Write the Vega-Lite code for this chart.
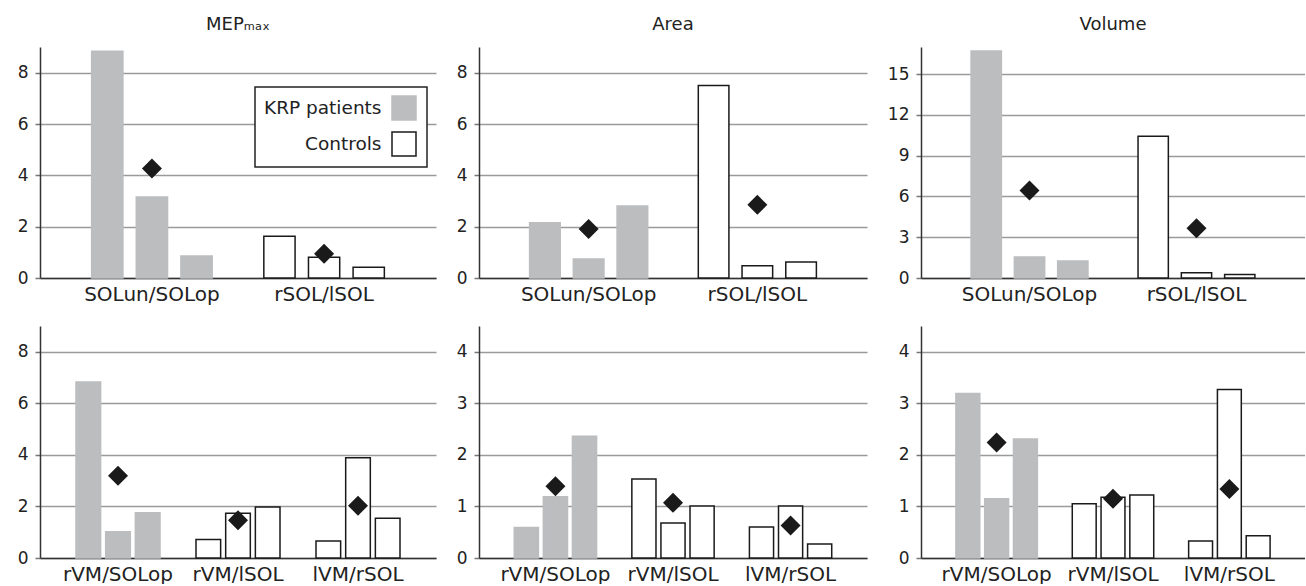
{
  "$schema": "https://vega.github.io/schema/vega-lite/v6.json",
  "background": "white",
  "autosize": {"type": "pad"},
  "padding": {"left": 17, "top": 16, "right": 0, "bottom": 0},
  "datasets": {
    "bars": [
      {"panel": "p1", "group": "SOLun/SOLop", "i": 1, "value": 8.83, "type": "KRP patients"},
      {"panel": "p1", "group": "SOLun/SOLop", "i": 2, "value": 3.16, "type": "KRP patients"},
      {"panel": "p1", "group": "SOLun/SOLop", "i": 3, "value": 0.86, "type": "KRP patients"},
      {"panel": "p1", "group": "rSOL/lSOL", "i": 1, "value": 1.63, "type": "Controls"},
      {"panel": "p1", "group": "rSOL/lSOL", "i": 2, "value": 0.81, "type": "Controls"},
      {"panel": "p1", "group": "rSOL/lSOL", "i": 3, "value": 0.42, "type": "Controls"},
      {"panel": "p2", "group": "SOLun/SOLop", "i": 1, "value": 2.15, "type": "KRP patients"},
      {"panel": "p2", "group": "SOLun/SOLop", "i": 2, "value": 0.74, "type": "KRP patients"},
      {"panel": "p2", "group": "SOLun/SOLop", "i": 3, "value": 2.81, "type": "KRP patients"},
      {"panel": "p2", "group": "rSOL/lSOL", "i": 1, "value": 7.5, "type": "Controls"},
      {"panel": "p2", "group": "rSOL/lSOL", "i": 2, "value": 0.48, "type": "Controls"},
      {"panel": "p2", "group": "rSOL/lSOL", "i": 3, "value": 0.62, "type": "Controls"},
      {"panel": "p3", "group": "SOLun/SOLop", "i": 1, "value": 16.7, "type": "KRP patients"},
      {"panel": "p3", "group": "SOLun/SOLop", "i": 2, "value": 1.55, "type": "KRP patients"},
      {"panel": "p3", "group": "SOLun/SOLop", "i": 3, "value": 1.25, "type": "KRP patients"},
      {"panel": "p3", "group": "rSOL/lSOL", "i": 1, "value": 10.44, "type": "Controls"},
      {"panel": "p3", "group": "rSOL/lSOL", "i": 2, "value": 0.39, "type": "Controls"},
      {"panel": "p3", "group": "rSOL/lSOL", "i": 3, "value": 0.25, "type": "Controls"},
      {"panel": "p4", "group": "rVM/SOLop", "i": 1, "value": 6.83, "type": "KRP patients"},
      {"panel": "p4", "group": "rVM/SOLop", "i": 2, "value": 1.02, "type": "KRP patients"},
      {"panel": "p4", "group": "rVM/SOLop", "i": 3, "value": 1.76, "type": "KRP patients"},
      {"panel": "p4", "group": "rVM/lSOL", "i": 1, "value": 0.72, "type": "Controls"},
      {"panel": "p4", "group": "rVM/lSOL", "i": 2, "value": 1.74, "type": "Controls"},
      {"panel": "p4", "group": "rVM/lSOL", "i": 3, "value": 1.98, "type": "Controls"},
      {"panel": "p4", "group": "lVM/rSOL", "i": 1, "value": 0.66, "type": "Controls"},
      {"panel": "p4", "group": "lVM/rSOL", "i": 2, "value": 3.89, "type": "Controls"},
      {"panel": "p4", "group": "lVM/rSOL", "i": 3, "value": 1.54, "type": "Controls"},
      {"panel": "p5", "group": "rVM/SOLop", "i": 1, "value": 0.59, "type": "KRP patients"},
      {"panel": "p5", "group": "rVM/SOLop", "i": 2, "value": 1.19, "type": "KRP patients"},
      {"panel": "p5", "group": "rVM/SOLop", "i": 3, "value": 2.36, "type": "KRP patients"},
      {"panel": "p5", "group": "rVM/lSOL", "i": 1, "value": 1.53, "type": "Controls"},
      {"panel": "p5", "group": "rVM/lSOL", "i": 2, "value": 0.68, "type": "Controls"},
      {"panel": "p5", "group": "rVM/lSOL", "i": 3, "value": 1.01, "type": "Controls"},
      {"panel": "p5", "group": "lVM/rSOL", "i": 1, "value": 0.6, "type": "Controls"},
      {"panel": "p5", "group": "lVM/rSOL", "i": 2, "value": 1.01, "type": "Controls"},
      {"panel": "p5", "group": "lVM/rSOL", "i": 3, "value": 0.27, "type": "Controls"},
      {"panel": "p6", "group": "rVM/SOLop", "i": 1, "value": 3.19, "type": "KRP patients"},
      {"panel": "p6", "group": "rVM/SOLop", "i": 2, "value": 1.15, "type": "KRP patients"},
      {"panel": "p6", "group": "rVM/SOLop", "i": 3, "value": 2.31, "type": "KRP patients"},
      {"panel": "p6", "group": "rVM/lSOL", "i": 1, "value": 1.05, "type": "Controls"},
      {"panel": "p6", "group": "rVM/lSOL", "i": 2, "value": 1.18, "type": "Controls"},
      {"panel": "p6", "group": "rVM/lSOL", "i": 3, "value": 1.22, "type": "Controls"},
      {"panel": "p6", "group": "lVM/rSOL", "i": 1, "value": 0.33, "type": "Controls"},
      {"panel": "p6", "group": "lVM/rSOL", "i": 2, "value": 3.27, "type": "Controls"},
      {"panel": "p6", "group": "lVM/rSOL", "i": 3, "value": 0.43, "type": "Controls"}
    ],
    "means": [
      {"panel": "p1", "group": "SOLun/SOLop", "mean": 4.27},
      {"panel": "p1", "group": "rSOL/lSOL", "mean": 0.94},
      {"panel": "p2", "group": "SOLun/SOLop", "mean": 1.91},
      {"panel": "p2", "group": "rSOL/lSOL", "mean": 2.85},
      {"panel": "p3", "group": "SOLun/SOLop", "mean": 6.44},
      {"panel": "p3", "group": "rSOL/lSOL", "mean": 3.66},
      {"panel": "p4", "group": "rVM/SOLop", "mean": 3.19},
      {"panel": "p4", "group": "rVM/lSOL", "mean": 1.46},
      {"panel": "p4", "group": "lVM/rSOL", "mean": 2.03},
      {"panel": "p5", "group": "rVM/SOLop", "mean": 1.39},
      {"panel": "p5", "group": "rVM/lSOL", "mean": 1.07},
      {"panel": "p5", "group": "lVM/rSOL", "mean": 0.63},
      {"panel": "p6", "group": "rVM/SOLop", "mean": 2.24},
      {"panel": "p6", "group": "rVM/lSOL", "mean": 1.15},
      {"panel": "p6", "group": "lVM/rSOL", "mean": 1.34}
    ]
  },
  "columns": 3,
  "spacing": {"row": 22, "column": 20},
  "resolve": {"scale": {"x": "independent", "y": "independent", "xOffset": "independent"}},
  "concat": [
    {
      "width": 396, "height": 231,
      "title": {"text": "MEPₘₐₓ"},
      "layer": [
        {
          "data": {"name": "bars"},
          "transform": [{"filter": "datum.panel === 'p1'"}],
          "mark": {"type": "bar", "strokeWidth": 1.5},
          "encoding": {
            "x": {"field": "group", "type": "nominal", "scale": {"domain": ["SOLun/SOLop", "rSOL/lSOL"], "paddingInner": 0.3, "paddingOuter": 0.3}},
            "xOffset": {"field": "i", "type": "ordinal", "scale": {"paddingInner": 0.3, "paddingOuter": 0}},
            "y": {"field": "value", "type": "quantitative", "scale": {"domain": [0, 9], "nice": false}, "axis": {"values": [0, 2, 4, 6, 8]}},
            "fill": {"field": "type", "type": "nominal", "scale": {"domain": ["KRP patients", "Controls"], "range": ["#bcbdbf", "#ffffff"]}, "legend": {"title": null}},
            "stroke": {"field": "type", "type": "nominal", "scale": {"domain": ["KRP patients", "Controls"], "range": ["#bcbdbf", "#1a1a1a"]}, "legend": {"title": null}}
          }
        },
        {
          "data": {"name": "means"},
          "transform": [{"filter": "datum.panel === 'p1'"}],
          "mark": {"type": "point", "shape": "diamond", "filled": true, "size": 400, "color": "#1a1a1a", "opacity": 1},
          "encoding": {
            "x": {"field": "group", "type": "nominal"},
            "y": {"field": "mean", "type": "quantitative"}
          }
        }
      ]
    },
    {
      "width": 388, "height": 231,
      "title": {"text": "Area"},
      "layer": [
        {
          "data": {"name": "bars"},
          "transform": [{"filter": "datum.panel === 'p2'"}],
          "mark": {"type": "bar", "strokeWidth": 1.5},
          "encoding": {
            "x": {"field": "group", "type": "nominal", "scale": {"domain": ["SOLun/SOLop", "rSOL/lSOL"], "paddingInner": 0.3, "paddingOuter": 0.3}},
            "xOffset": {"field": "i", "type": "ordinal", "scale": {"paddingInner": 0.3, "paddingOuter": 0}},
            "y": {"field": "value", "type": "quantitative", "scale": {"domain": [0, 9], "nice": false}, "axis": {"values": [0, 2, 4, 6, 8]}},
            "fill": {"field": "type", "type": "nominal", "scale": {"domain": ["KRP patients", "Controls"], "range": ["#bcbdbf", "#ffffff"]}, "legend": {"title": null}},
            "stroke": {"field": "type", "type": "nominal", "scale": {"domain": ["KRP patients", "Controls"], "range": ["#bcbdbf", "#1a1a1a"]}, "legend": {"title": null}}
          }
        },
        {
          "data": {"name": "means"},
          "transform": [{"filter": "datum.panel === 'p2'"}],
          "mark": {"type": "point", "shape": "diamond", "filled": true, "size": 400, "color": "#1a1a1a", "opacity": 1},
          "encoding": {
            "x": {"field": "group", "type": "nominal"},
            "y": {"field": "mean", "type": "quantitative"}
          }
        }
      ]
    },
    {
      "width": 384, "height": 231,
      "title": {"text": "Volume"},
      "layer": [
        {
          "data": {"name": "bars"},
          "transform": [{"filter": "datum.panel === 'p3'"}],
          "mark": {"type": "bar", "strokeWidth": 1.5},
          "encoding": {
            "x": {"field": "group", "type": "nominal", "scale": {"domain": ["SOLun/SOLop", "rSOL/lSOL"], "paddingInner": 0.3, "paddingOuter": 0.3}},
            "xOffset": {"field": "i", "type": "ordinal", "scale": {"paddingInner": 0.3, "paddingOuter": 0}},
            "y": {"field": "value", "type": "quantitative", "scale": {"domain": [0, 17], "nice": false}, "axis": {"values": [0, 3, 6, 9, 12, 15]}},
            "fill": {"field": "type", "type": "nominal", "scale": {"domain": ["KRP patients", "Controls"], "range": ["#bcbdbf", "#ffffff"]}, "legend": {"title": null}},
            "stroke": {"field": "type", "type": "nominal", "scale": {"domain": ["KRP patients", "Controls"], "range": ["#bcbdbf", "#1a1a1a"]}, "legend": {"title": null}}
          }
        },
        {
          "data": {"name": "means"},
          "transform": [{"filter": "datum.panel === 'p3'"}],
          "mark": {"type": "point", "shape": "diamond", "filled": true, "size": 400, "color": "#1a1a1a", "opacity": 1},
          "encoding": {
            "x": {"field": "group", "type": "nominal"},
            "y": {"field": "mean", "type": "quantitative"}
          }
        }
      ]
    },
    {
      "width": 396, "height": 232,
      "layer": [
        {
          "data": {"name": "bars"},
          "transform": [{"filter": "datum.panel === 'p4'"}],
          "mark": {"type": "bar", "strokeWidth": 1.5},
          "encoding": {
            "x": {"field": "group", "type": "nominal", "scale": {"domain": ["rVM/SOLop", "rVM/lSOL", "lVM/rSOL"], "paddingInner": 0.3, "paddingOuter": 0.3}},
            "xOffset": {"field": "i", "type": "ordinal", "scale": {"paddingInner": 0.17, "paddingOuter": 0}},
            "y": {"field": "value", "type": "quantitative", "scale": {"domain": [0, 9], "nice": false}, "axis": {"values": [0, 2, 4, 6, 8]}},
            "fill": {"field": "type", "type": "nominal", "scale": {"domain": ["KRP patients", "Controls"], "range": ["#bcbdbf", "#ffffff"]}, "legend": {"title": null}},
            "stroke": {"field": "type", "type": "nominal", "scale": {"domain": ["KRP patients", "Controls"], "range": ["#bcbdbf", "#1a1a1a"]}, "legend": {"title": null}}
          }
        },
        {
          "data": {"name": "means"},
          "transform": [{"filter": "datum.panel === 'p4'"}],
          "mark": {"type": "point", "shape": "diamond", "filled": true, "size": 400, "color": "#1a1a1a", "opacity": 1},
          "encoding": {
            "x": {"field": "group", "type": "nominal"},
            "y": {"field": "mean", "type": "quantitative"}
          }
        }
      ]
    },
    {
      "width": 388, "height": 232,
      "layer": [
        {
          "data": {"name": "bars"},
          "transform": [{"filter": "datum.panel === 'p5'"}],
          "mark": {"type": "bar", "strokeWidth": 1.5},
          "encoding": {
            "x": {"field": "group", "type": "nominal", "scale": {"domain": ["rVM/SOLop", "rVM/lSOL", "lVM/rSOL"], "paddingInner": 0.3, "paddingOuter": 0.3}},
            "xOffset": {"field": "i", "type": "ordinal", "scale": {"paddingInner": 0.17, "paddingOuter": 0}},
            "y": {"field": "value", "type": "quantitative", "scale": {"domain": [0, 4.5], "nice": false}, "axis": {"values": [0, 1, 2, 3, 4]}},
            "fill": {"field": "type", "type": "nominal", "scale": {"domain": ["KRP patients", "Controls"], "range": ["#bcbdbf", "#ffffff"]}, "legend": {"title": null}},
            "stroke": {"field": "type", "type": "nominal", "scale": {"domain": ["KRP patients", "Controls"], "range": ["#bcbdbf", "#1a1a1a"]}, "legend": {"title": null}}
          }
        },
        {
          "data": {"name": "means"},
          "transform": [{"filter": "datum.panel === 'p5'"}],
          "mark": {"type": "point", "shape": "diamond", "filled": true, "size": 400, "color": "#1a1a1a", "opacity": 1},
          "encoding": {
            "x": {"field": "group", "type": "nominal"},
            "y": {"field": "mean", "type": "quantitative"}
          }
        }
      ]
    },
    {
      "width": 384, "height": 232,
      "layer": [
        {
          "data": {"name": "bars"},
          "transform": [{"filter": "datum.panel === 'p6'"}],
          "mark": {"type": "bar", "strokeWidth": 1.5},
          "encoding": {
            "x": {"field": "group", "type": "nominal", "scale": {"domain": ["rVM/SOLop", "rVM/lSOL", "lVM/rSOL"], "paddingInner": 0.3, "paddingOuter": 0.3}},
            "xOffset": {"field": "i", "type": "ordinal", "scale": {"paddingInner": 0.17, "paddingOuter": 0}},
            "y": {"field": "value", "type": "quantitative", "scale": {"domain": [0, 4.5], "nice": false}, "axis": {"values": [0, 1, 2, 3, 4]}},
            "fill": {"field": "type", "type": "nominal", "scale": {"domain": ["KRP patients", "Controls"], "range": ["#bcbdbf", "#ffffff"]}, "legend": {"title": null}},
            "stroke": {"field": "type", "type": "nominal", "scale": {"domain": ["KRP patients", "Controls"], "range": ["#bcbdbf", "#1a1a1a"]}, "legend": {"title": null}}
          }
        },
        {
          "data": {"name": "means"},
          "transform": [{"filter": "datum.panel === 'p6'"}],
          "mark": {"type": "point", "shape": "diamond", "filled": true, "size": 400, "color": "#1a1a1a", "opacity": 1},
          "encoding": {
            "x": {"field": "group", "type": "nominal"},
            "y": {"field": "mean", "type": "quantitative"}
          }
        }
      ]
    }
  ],
  "config": {
    "font": "DejaVu Sans",
    "view": {"stroke": null},
    "title": {"font": "DejaVu Sans", "fontSize": 18, "fontWeight": "normal", "color": "#222222", "anchor": "middle", "frame": "group", "baseline": "alphabetic", "offset": 13},
    "axis": {"labelFont": "DejaVu Sans", "labelColor": "#222222", "title": null},
    "axisY": {"domainColor": "#333333", "domainWidth": 1.5, "gridColor": "#9a9a9a", "gridWidth": 1.5, "tickColor": "#777777", "tickSize": 5, "tickWidth": 1.5, "labelFontSize": 17, "labelPadding": 7},
    "axisX": {"domainColor": "#333333", "domainWidth": 1.5, "ticks": false, "labelAngle": 0, "labelFontSize": 20, "labelPadding": 6, "grid": false},
    "legend": {
      "orient": "none", "legendX": 215, "legendY": 40,
      "direction": "vertical",
      "symbolType": "square", "symbolSize": 576, "symbolStrokeWidth": 1.5,
      "labelFont": "DejaVu Sans", "labelFontSize": 18.5, "labelColor": "#222222",
      "labelAlign": "right", "labelOffset": -35.5, "symbolOffset": 128,
      "padding": 8, "rowPadding": 6,
      "strokeColor": "#222222", "strokeWidth": 1.5, "fillColor": "#ffffff"
    }
  }
}
